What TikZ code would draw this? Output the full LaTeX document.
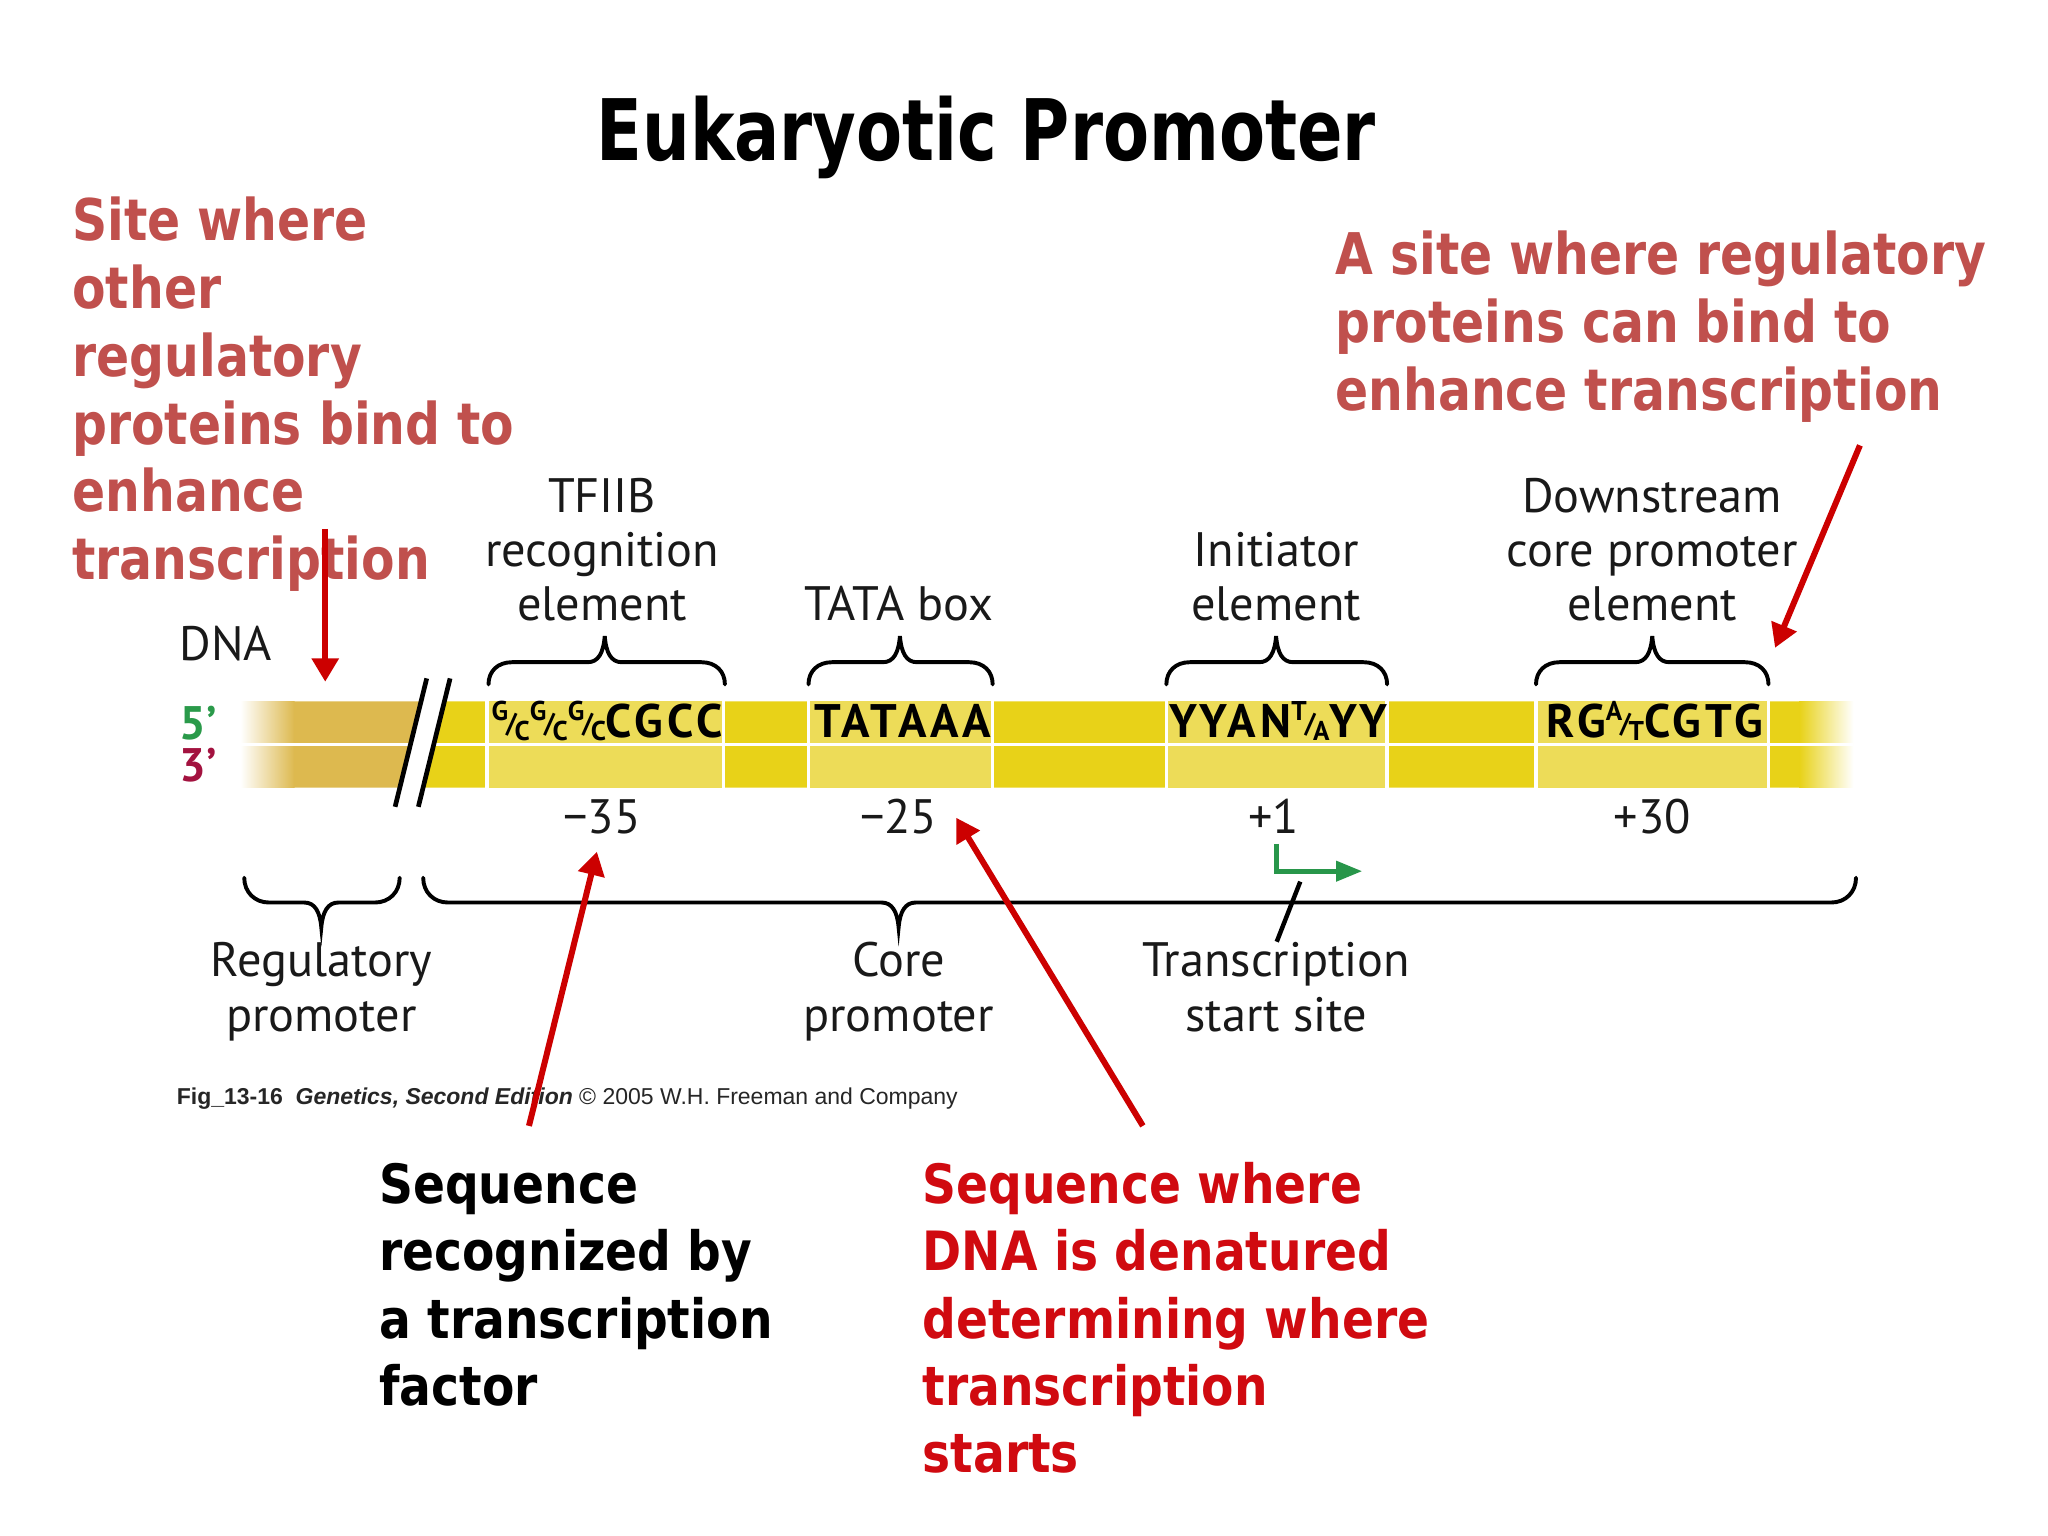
\documentclass[tikz,border=0pt]{standalone}
\usepackage{fontspec}
\setmainfont{PT Sans}
\newfontfamily\labfont{PT Sans}
\newfontfamily\seqfont{PT Sans}[LetterSpace=9]
\newfontfamily\comicA{DejaVu Sans}[FakeStretch=0.85]
\newfontfamily\comicB{DejaVu Sans}[FakeStretch=0.87]
\newfontfamily\comicT{DejaVu Sans}[FakeStretch=0.79]
\newfontfamily\arialf{Liberation Sans}
\usetikzlibrary{arrows.meta}
\definecolor{annred}{HTML}{C0504D}
\definecolor{brightred}{HTML}{D00A10}
\definecolor{arrred}{HTML}{CC0000}
\definecolor{brownc}{HTML}{DDB94F}
\definecolor{yel}{HTML}{E8D218}
\definecolor{boxyel}{HTML}{EDDC58}
\definecolor{tssgreen}{HTML}{28964A}
\definecolor{fivegreen}{HTML}{2A9A4A}
\definecolor{threered}{HTML}{A3123F}
\newcommand\sfr[2]{{\fontsize{10.4}{10.4}\selectfont\raisebox{6.8pt}{#1}\kern-0.9pt\raisebox{2pt}{/}\kern-0.9pt\raisebox{-0.9pt}{#2}}}
\newcommand\braceup[4]{%
 \draw[brc] (#1,#4) .. controls (#1,#4-10) and (#1+7,#4-17) .. (#1+18,#4-17) -- (#3-13,#4-17) .. controls (#3-5,#4-17) and (#3-1,#4-24) .. (#3,#4-37) .. controls (#3+1,#4-24) and (#3+5,#4-17) .. (#3+13,#4-17) -- (#2-18,#4-17) .. controls (#2-7,#4-17) and (#2,#4-10) .. (#2,#4);}
\newcommand\bracedn[4]{%
 \draw[brc] (#1,#4) .. controls (#1,#4+11) and (#1+8,#4+19) .. (#1+19,#4+19) -- (#3-13,#4+19) .. controls (#3-5,#4+19) and (#3-1,#4+26) .. (#3,#4+38) .. controls (#3+1,#4+26) and (#3+5,#4+19) .. (#3+13,#4+19) -- (#2-19,#4+19) .. controls (#2-8,#4+19) and (#2,#4+11) .. (#2,#4);}
\tikzset{
 brc/.style={draw=black, line width=1.5pt, line cap=round},
 titlestyle/.style={font=\comicT\bfseries\fontsize{32.5}{36}\selectfont, text=black, inner sep=0pt, anchor=base},
 annL/.style={font=\comicA\bfseries\fontsize{22}{26}\selectfont, text=annred, align=left, inner sep=0pt, anchor=base west},
 annB/.style={font=\comicB\bfseries\fontsize{20.75}{25.75}\selectfont, align=left, inner sep=0pt, anchor=base west},
 lab/.style={font=\labfont\fontsize{18.5}{20.75}\selectfont, text=black!90, align=center, inner sep=0pt, anchor=base},
 seq/.style={font=\seqfont\bfseries\fontsize{18}{18}\selectfont, text=black, inner sep=0pt, anchor=base},
 strand/.style={font=\labfont\bfseries\fontsize{18}{18}\selectfont, inner sep=0pt, anchor=base west},
 redarr/.style={draw=arrred, line width=2.3pt, -{Triangle[length=9pt,width=10pt]}},
 grnarr/.style={draw=tssgreen, line width=1.9pt, -{Triangle[length=10pt,width=7.5pt]}},
 seqbox/.style={fill=boxyel},
 sep/.style={draw=white, line width=1.3pt}
}
\begin{document}
\begin{tikzpicture}[x=0.5pt, y=-0.5pt]
\useasboundingbox (0,0) rectangle (1568,1176);
\fill[white] (0,0) rectangle (1568,1176);
% title
\node[titlestyle] (title) at (755,123) {Eukaryotic Promoter};
% DNA bar
\shade[left color=white, right color=brownc] (184,537) rectangle (225.5,603);
\fill[brownc] (225,537) -- (322.4,537) -- (306.1,603) -- (225,603) -- cycle;
\fill[yel] (340.3,537) -- (1378,537) -- (1378,603) -- (324,603) -- cycle;
\shade[left color=yel, right color=white] (1377.5,537) rectangle (1419,603);
\fill[seqbox] (373,537) rectangle (554,603);
\fill[seqbox] (619,537) rectangle (760,603);
\fill[seqbox] (893,537) rectangle (1062,603);
\fill[seqbox] (1176,537) rectangle (1354,603);
\draw[sep] (373,537) -- (373,603) (554,537) -- (554,603)
           (619,537) -- (619,603) (760,537) -- (760,603)
           (893,537) -- (893,603) (1062,537) -- (1062,603)
           (1176,537) -- (1176,603) (1354,537) -- (1354,603);
\draw[white, line width=1.2pt] (184,570) -- (1419,570);
% break slashes
\draw[black, line width=1.8pt] (326.7,519.4) -- (302.5,617.7);
\draw[black, line width=1.8pt] (344.6,519.4) -- (320.3,617.7);
% sequences
\node[seq] (s1) at (465,565) {\sfr{G}{C}\sfr{G}{C}\sfr{G}{C}CGCC};
\node[seq] (s2) at (691,565) {TATAAA};
\node[seq] (s3) at (979,565) {YYAN\sfr{T}{A}YY};
\node[seq] (s4) at (1267,565) {RG\sfr{A}{T}CGTG};
% strand labels
\node[strand, text=fivegreen] (five) at (137,566) {5’};
\node[strand, text=threered] (three) at (137,598.5) {3’};
\node[lab, anchor=base west] (dnalab) at (137,506) {DNA};
% element labels (anchor base = last line)
\node[lab] (tfiiblab) at (461,475) {TFIIB\\recognition\\element};
\node[lab] (tatalab) at (688,475) {TATA box};
\node[lab] (inrlab) at (977,475) {Initiator\\element};
\node[lab] (dpelab) at (1265,475) {Downstream\\core promoter\\element};
% upper braces
\braceup{374}{555}{463}{524}
\braceup{619}{760}{689}{524}
\braceup{893}{1062}{977}{524}
\braceup{1176}{1354}{1265}{524}
% positions
\node[lab] (m35) at (461,638) {−35};
\node[lab] (m25) at (688,638) {−25};
\node[lab] (p1) at (975,638) {+1};
\node[lab] (p30) at (1265,638) {+30};
% lower braces
\bracedn{187}{306}{246}{672}
\bracedn{324}{1421}{688}{672}
\node[lab] (reglab) at (246,789.5) {Regulatory\\promoter};
\node[lab] (corelab) at (688,789.5) {Core\\promoter};
\node[lab] (tsslab) at (977,789.5) {Transcription\\start site};
% transcription start arrow
\coordinate (tsstop) at (977,646);
\coordinate (tsstip) at (1043,667);
\draw[grnarr] (tsstop) |- (tsstip);
\coordinate (tssptr) at (995.5,675);
\coordinate (tssend) at (977.5,721);
\draw[black, line width=1.7pt] (tssptr) -- (tssend);
% footer
\node[anchor=base west, inner sep=0pt, font=\arialf\fontsize{8.8}{10}\selectfont, text=black!85] (footer) at (135,846)
 {\textbf{Fig\_13-16}\ \ \textbf{\textit{Genetics, Second Edition}} © 2005 W.H. Freeman and Company};
% annotations (anchor base = last line)
\node[annL] (regsite) at (55,444) {Site where\\other\\regulatory\\proteins bind to\\enhance\\transcription};
\node[annL] (enhsite) at (1022,314) {A site where regulatory\\proteins can bind to\\enhance transcription};
\node[annB, text=black] (tfseq) at (290,1076) {Sequence\\recognized by\\a transcription\\factor};
\node[annB, text=brightred] (denat) at (706,1127.5) {Sequence where\\DNA is denatured\\determining where\\transcription\\starts};
% red arrows
\coordinate (a1s) at (249,405); \coordinate (a1e) at (249,522);
\coordinate (a2s) at (405,862); \coordinate (a2e) at (457,652);
\coordinate (a3s) at (875,862); \coordinate (a3e) at (732,626);
\coordinate (a4s) at (1424,341); \coordinate (a4e) at (1359,496);
\draw[redarr] (a1s) -- (a1e);
\draw[redarr] (a2s) -- (a2e);
\draw[redarr] (a3s) -- (a3e);
\draw[redarr] (a4s) -- (a4e);
\end{tikzpicture}
\end{document}
